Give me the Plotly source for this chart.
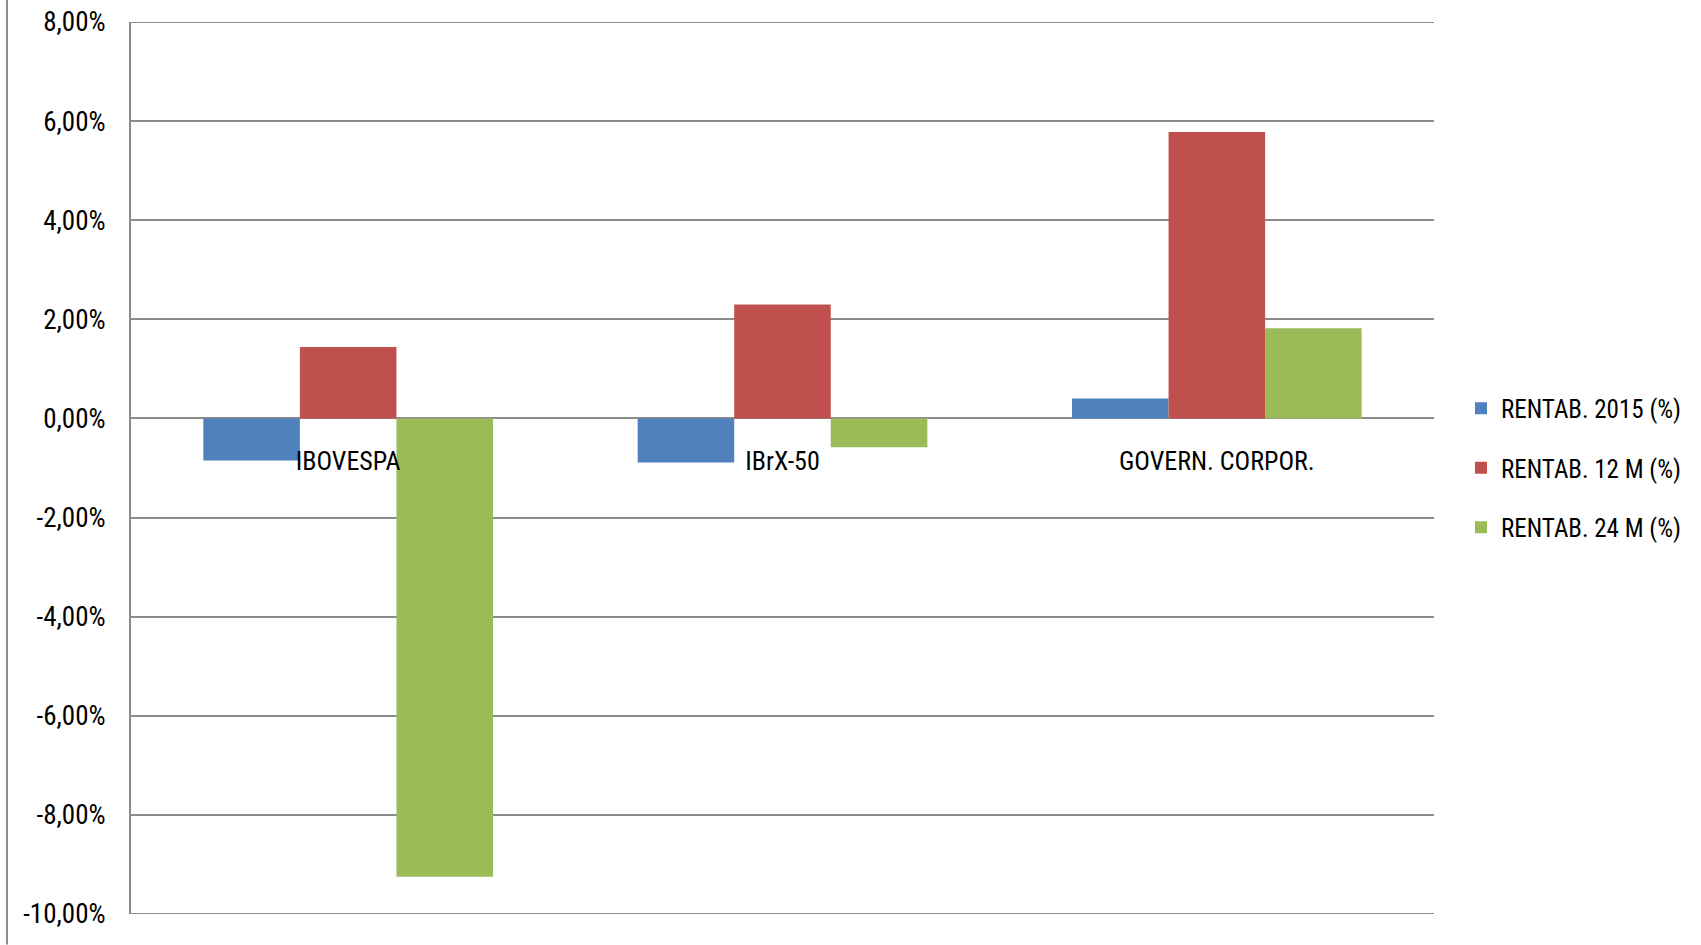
import plotly.graph_objects as go

categories = ["IBOVESPA", "IBrX-50", "GOVERN. CORPOR."]
series_names = ["RENTAB. 2015 (%)", "RENTAB. 12 M (%)", "RENTAB. 24 M (%)"]
rentab_2015 = [-0.85, -0.89, 0.40]
rentab_12m = [1.44, 2.30, 5.78]
rentab_24m = [-9.25, -0.58, 1.82]
colors = ["#4F81BD", "#C0504D", "#9BBB59"]
tick_vals = [-10, -8, -6, -4, -2, 0, 2, 4, 6, 8]
tick_text = ["-10,00%", "-8,00%", "-6,00%", "-4,00%", "-2,00%", "0,00%",
             "2,00%", "4,00%", "6,00%", "8,00%"]

FONT = "Liberation Sans Narrow, Arial Narrow, Roboto Condensed, sans-serif"
GRID = "#8C8C8C"

fig = go.Figure()
for name, vals, col in zip(series_names, [rentab_2015, rentab_12m, rentab_24m], colors):
    fig.add_trace(go.Bar(
        x=categories, y=vals, name=name, marker_color=col,
        marker_line_width=0, legendgroup=name,
    ))

W, H = 1701, 945
L, R, T, B = 131, 1701 - 1434, 22, 945 - 914.5
plot_w = W - L - R
plot_h = H - T - B

fig.update_layout(
    width=W, height=H,
    margin=dict(l=L, r=R, t=T, b=B, pad=0, autoexpand=False),
    paper_bgcolor="white", plot_bgcolor="white",
    barmode="group", bargap=0.333, bargroupgap=0,
    font=dict(family=FONT, size=26, color="#000000"),
    showlegend=True,
    legend=dict(
        x=(1461 - L) / plot_w, xanchor="left",
        y=0.5, yanchor="middle",
        font=dict(family=FONT, size=25, color="#000000"),
        tracegroupgap=24, bgcolor="rgba(0,0,0,0)",
    ),
    xaxis=dict(
        anchor="free", position=10 / 18, automargin=False,
        showline=False, showgrid=False, zeroline=False, ticks="",
        tickfont=dict(family=FONT, size=26, color="#000000"),
        ticklabelstandoff=25,
    ),
    yaxis=dict(
        range=[-10, 8], tickvals=tick_vals, ticktext=tick_text, automargin=False,
        showgrid=True, gridcolor=GRID, gridwidth=2,
        zeroline=False, showline=True, linecolor=GRID, linewidth=2,
        ticks="", ticklabelstandoff=18,
        tickfont=dict(family=FONT, size=27, color="#000000"),
    ),
)

# top and bottom gridlines at the range ends
for yv in (tick_vals[0], tick_vals[-1]):
    fig.add_shape(type="line", xref="paper", yref="y", x0=0, x1=1, y0=yv, y1=yv,
                  line=dict(color=GRID, width=2), layer="below")

# chart-area left border
fig.add_shape(
    type="line", xref="paper", yref="paper",
    x0=(7 - L) / plot_w, x1=(7 - L) / plot_w,
    y0=(914.5 - H) / plot_h, y1=(914.5 - 0) / plot_h,
    line=dict(color=GRID, width=2), layer="below",
)

fig.write_html("out.html", config={"displayModeBar": False},
               post_script="document.body.style.margin='0';")
